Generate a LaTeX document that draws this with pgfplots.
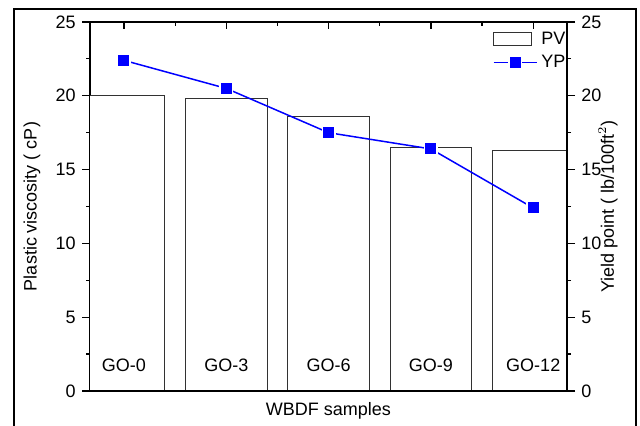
\documentclass[border=0pt]{standalone}
\usepackage{fontspec}
\setmainfont{Liberation Sans}
\usepackage{pgfplots}
\pgfplotsset{compat=1.18}

\definecolor{ypblue}{RGB}{0,0,255}
\definecolor{baredge}{RGB}{50,50,50}

% shared frame: 1 px of the reference = 0.5pt
\pgfplotsset{
  frame/.style={
    scale only axis, width=238.5pt, height=184.5pt,
    at={(45pt,17.5pt)}, anchor=south west,
    xmin=-0.332, xmax=4.33, ymin=0, ymax=25,
    axis line style={line width=0.6pt},
    major tick length=4pt, minor tick length=2pt,
    every tick/.style={black, line width=0.6pt},
    /pgf/number format/assume math mode=true,
  },
  ypline/.style={legend image code/.code={
    \draw[mark repeat=2, mark phase=2, ##1] plot coordinates {(0pt,0pt) (10.75pt,0pt) (21.5pt,0pt)};}},
  pvbox/.style={legend image code/.code={
    \draw[baredge, fill=white, line width=0.5pt] (0pt,-3.25pt) rectangle (19pt,3.25pt);}},
}

\begin{document}
\fontsize{9}{10.8}\selectfont
\begin{tikzpicture}
\useasboundingbox (0,0) rectangle (320pt,213pt);
\draw[line width=0.8pt] (7pt,0pt) -- (7pt,208.5pt) -- (318pt,208.5pt) -- (318pt,0pt);

% PV bars on the left axis
\begin{axis}[frame,
  ybar, bar width=0.8,
  tick align=outside,
  ytick={0,5,...,25}, minor y tick num=1, ytick pos=left,
  xtick=\empty,
  ylabel={Plastic viscosity ( cP)},
  ylabel style={at={(axis description cs:-0.1216,0.5)}, anchor=center},
  xlabel={WBDF samples},
  xlabel style={at={(axis description cs:0.5,-0.054)}, anchor=center},
]
\addplot[draw=baredge, fill=white, line width=0.5pt] coordinates {
  (0,20.0) (1,19.8) (2,18.6) (3,16.5) (4,16.3)};
\end{axis}

% YP line on the right axis
\begin{axis}[frame,
  axis x line=none, axis y line*=right,
  tick align=outside,
  ytick={0,5,...,25}, minor y tick num=1,
  ylabel={Yield point ( lb/100ft$^{2}$)},
  ylabel style={at={(axis description cs:1.086,0.5)}, anchor=center},
  legend style={draw=none, fill=none, at={(1.006,0.985)}, anchor=north east,
    inner sep=0pt, row sep=0pt},
  legend cell align=left,
]
\addlegendimage{pvbox}
\addlegendentry{PV}
\addplot[ypblue, line width=0.75pt, mark=square*, mark size=3.15pt,
  mark options={fill=ypblue, draw=white, line width=0.8pt}, ypline]
  coordinates {(0,22.4) (1,20.5) (2,17.5) (3,16.4) (4,12.4)};
\addlegendentry{YP}
\end{axis}

% top x ticks pointing inward, sample names inside the bars
\begin{axis}[frame,
  axis y line=none, tick align=inside,
  xtick={0,...,4}, minor x tick num=1,
  xtick pos=right, xticklabel pos=left,
  xticklabels={GO-0,GO-3,GO-6,GO-9,GO-12},
  xticklabel style={anchor=base, yshift=9.5pt},
  major tick length=3.5pt,
]
\end{axis}
\end{tikzpicture}
\end{document}
